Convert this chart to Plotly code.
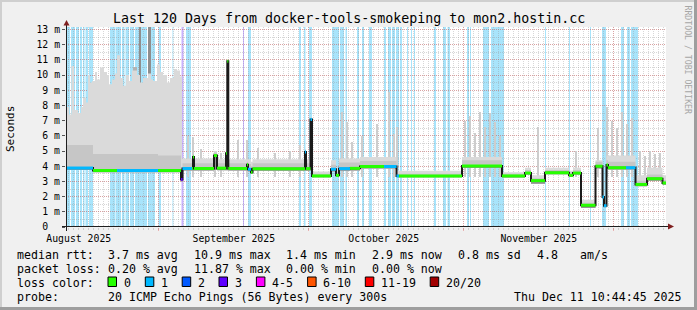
import plotly.graph_objects as go
from datetime import datetime

START = datetime(2025, 8, 13, 10, 44, 45)
SPAN_DAYS = 120.0

# ---------------- data (days since START, milliseconds) ----------------
seg_day = [0.0, 5.4, 10.2, 18.4, 23.0, 23.3, 25.2, 25.4, 25.6, 29.6,
           30.2, 32.0, 32.16, 32.26, 32.46, 36.2, 36.4, 37.0, 37.3, 47.8,
           48.0, 48.9, 49.2, 53.0, 54.0, 54.6, 56.8, 58.8, 63.6, 66.1,
           66.6, 79.2, 87.2, 91.8, 93.0, 95.8, 100.6, 101.4, 103.0, 105.9,
           107.3, 107.6, 108.1, 108.4, 112.0, 113.9, 116.2, 119.3]
med_ms = [3.88, 3.72, 3.72, 3.72, 3.12, 3.85, 3.85, 4.6, 3.85, 4.7,
          3.87, 4.85, 3.87, 10.9, 3.85, 4.1, 3.8, 3.6, 3.83, 4.93,
          3.84, 7.08, 3.36, 3.8, 3.4, 3.84, 3.86, 3.98, 3.98, 3.36,
          3.36, 4.01, 3.36, 3.55, 3.05, 3.57, 3.4, 3.55, 1.43, 4.0,
          1.97, 1.4, 4.08, 3.9, 3.9, 2.8, 3.18, 2.9]
med_loss = [1, 0, 1, 0, 3, 1, 0, 0, 0, 0,
            0, 0, 0, 0, 0, 0, 1, 0, 0, 1,
            0, 1, 0, 1, 0, 1, 0, 0, 1, 1,
            0, 0, 0, 0, 0, 0, 0, 0, 0, 0,
            1, 1, 0, 0, 1, 0, 0, 0]
smoke_lo = [3.75, 3.6, 3.6, 3.6, 3.0, 3.72, 3.72, 3.72, 3.72, 3.75,
            3.74, 3.74, 3.74, 3.74, 3.72, 3.72, 3.65, 3.5, 3.7, 3.7,
            3.7, 3.7, 3.28, 3.65, 3.3, 3.7, 3.72, 3.85, 3.85, 3.28,
            3.28, 3.88, 3.26, 3.45, 2.85, 3.47, 3.3, 3.45, 1.25, 3.85,
            1.85, 1.3, 3.9, 3.78, 3.78, 2.68, 3.05, 2.78]
smoke_p75 = [5.4, 4.8, 4.8, 4.7, 3.9, 4.2, 4.2, 4.8, 4.2, 4.9,
             4.2, 5.0, 4.2, 11.0, 4.2, 4.3, 4.15, 4.0, 4.2, 5.1,
             4.2, 7.2, 3.5, 4.1, 3.6, 4.25, 4.25, 4.35, 4.35, 3.5,
             3.5, 4.4, 3.5, 3.75, 3.2, 3.75, 3.6, 3.75, 1.6, 4.3,
             2.2, 1.6, 4.4, 4.3, 4.3, 3.05, 3.45, 3.1]

top_day = [0.0, 0.6, 1.1, 1.6, 2.4, 3.0, 3.4, 4.0, 4.4, 4.8,
           5.2, 5.8, 6.2, 6.8, 7.6, 8.2, 8.6, 9.2, 9.8, 10.2,
           10.8, 11.4, 12.0, 12.6, 13.2, 14.2, 14.8, 15.4, 16.4, 17.0,
           17.4, 18.2, 18.8, 19.4, 20.2, 20.8, 21.6, 22.2, 22.8, 23.2,
           29.6, 30.2, 37.0, 37.3, 49.2, 53.0, 54.0, 54.6, 58.8, 66.1,
           79.2, 87.2, 91.8, 93.0, 95.8, 100.6, 101.4, 103.0, 105.9, 107.3,
           107.6, 108.1, 113.9, 116.2, 119.3]
top_ms = [7.9, 7.4, 10.6, 7.7, 7.5, 7.9, 8.5, 8.2, 10.0, 9.5,
          9.6, 10.2, 9.7, 10.5, 10.2, 10.0, 9.4, 9.7, 10.1, 11.3,
          9.8, 9.3, 10.0, 9.6, 10.3, 10.0, 9.5, 9.8, 10.1, 9.7,
          9.6, 10.7, 10.2, 10.0, 9.5, 9.8, 10.4, 10.3, 9.9, 4.5,
          5.0, 4.45, 4.3, 4.45, 3.65, 4.4, 3.9, 4.5, 4.6, 3.7,
          4.6, 3.6, 3.9, 3.4, 3.9, 3.7, 3.9, 1.8, 4.4, 2.3,
          1.8, 4.7, 3.4, 3.9, 3.4]

spike_day = [24.4, 25.4, 27.0, 29.8, 31.0, 34.4, 36.2, 38.4, 41.8, 44.8,
             46.8, 55.2, 56.2, 57.2, 59.2, 62.2, 64.6, 65.6, 66.2, 79.8,
             80.8, 81.8, 82.8, 83.8, 84.8, 85.8, 86.8, 94.4, 102.0, 106.4,
             108.2, 109.2, 110.2, 111.2, 112.2, 113.2, 114.8, 115.8, 116.8, 117.8,
             118.8]
spike_top = [6.0, 5.9, 5.1, 5.0, 4.9, 5.7, 5.7, 5.2, 4.9, 5.0,
             5.4, 7.6, 6.9, 5.6, 6.0, 6.8, 8.9, 6.1, 6.6, 7.0,
             7.3, 6.2, 7.6, 6.6, 7.5, 6.9, 6.0, 6.6, 5.0, 6.5,
             7.9, 7.0, 6.5, 7.6, 6.8, 7.2, 5.0, 4.7, 5.0, 4.8,
             4.9]
spike_dur = 0.2

midcol_day = [7.2, 10.26, 12.7, 13.8]
midcol_top = [8.0, 9.0, 9.6, 10.5]
midcol_dur = [0.4, 0.2, 0.4, 0.8]
darkcol_day = [14.86, 16.7]
darkcol_top = [13.16, 13.16]
darkcol_dur = [0.4, 0.6]
col_base = 3.8
spike_base = 3.3

band_start = [0.0, 1.0, 2.0, 2.8, 3.4, 3.9, 4.6, 8.8, 9.9, 11.2,
              11.9, 12.8, 13.8, 16.4, 18.5, 21.3, 23.1, 24.0, 35.4, 36.4,
              46.6, 47.6, 48.6, 53.2, 54.8, 55.9, 58.2, 59.2, 60.6, 63.6,
              64.4, 65.2, 66.0, 66.8, 68.2, 69.0, 69.6, 73.6, 75.4, 76.3,
              80.2, 80.8, 83.4, 85.0, 95.8, 100.6, 104.8, 107.2, 111.0, 112.2,
              113.0]
band_end = [0.8, 1.8, 2.6, 3.2, 3.7, 4.4, 5.4, 9.8, 11.0, 11.7,
            12.6, 13.6, 16.2, 17.8, 19.0, 21.46, 23.5, 25.0, 35.6, 37.0,
            47.0, 47.9, 49.2, 54.6, 55.6, 56.2, 58.6, 59.6, 61.2, 64.0,
            65.0, 65.8, 66.6, 67.2, 68.4, 69.2, 69.8, 74.0, 76.0, 76.8,
            80.6, 81.0, 84.6, 87.6, 96.0, 100.8, 105.0, 108.0, 111.6, 112.8,
            114.4]
band_loss = [1, 1, 1, 1, 1, 1, 1, 1, 1, 1,
             1, 1, 1, 1, 1, 1, 3, 1, 3, 1,
             1, 1, 1, 1, 1, 1, 1, 1, 1, 1,
             1, 1, 1, 1, 1, 1, 1, 1, 1, 1,
             1, 1, 1, 1, 1, 1, 1, 1, 1, 1,
             1]

month_starts = [datetime(2025, 9, 1), datetime(2025, 10, 1), datetime(2025, 11, 1), datetime(2025, 12, 1)]
month_label_at = [datetime(2025, 8, 16), datetime(2025, 9, 16), datetime(2025, 10, 16), datetime(2025, 11, 16)]
month_labels = ["August 2025", "September 2025", "October 2025", "November 2025"]
first_midnight = datetime(2025, 8, 14)

y_tickvals = list(range(0, 14))
y_ticktext = ["0  "] + [f"{v} m" for v in range(1, 14)]

rtt_stats = ["3.7 ms avg", "10.9 ms max", "1.4 ms min", "2.9 ms now", "0.8 ms sd", "4.8", "am/s"]
loss_stats = ["0.20 % avg", "11.87 % max", "0.00 % min", "0.00 % now"]
loss_labels = ["0", "1", "2", "3", "4-5", "6-10", "11-19", "20/20"]
probe_text = "20 ICMP Echo Pings (56 Bytes) every 300s"
stamp_text = "Thu Dec 11 10:44:45 2025"
title_text = "Last 120 Days from docker-tools-smokeping to mon2.hostin.cc"

# ---------------- styles ----------------
FONT = "DejaVu Sans Mono"
LOSS_COLORS = ["#26ff00", "#00b8ff", "#0059ff", "#5e00ff", "#ff00ff", "#ff5500", "#ff0000", "#a10000"]
BAND_COLORS = {1: "#a8e4fb", 3: "#c9b2ff"}
GRID = "rgba(150,150,150,0.38)"
MGRID = "rgba(222,79,79,0.38)"
BACK = "#f0f0f0"
ARROW = "#7f1f1f"
AXIS = "#1f1f1f"


def dayof(dt):
    return (dt - START).total_seconds() / 86400.0


def px(x):
    return (x - 66) / 600.0


def py(y):
    return (227 - y) / 200.0


fig = go.Figure()

# thin smoke spikes
fig.add_trace(go.Bar(x=spike_day, y=[t - spike_base for t in spike_top], base=spike_base,
                     width=spike_dur, marker=dict(color="#cdcdcd", line=dict(width=0)),
                     hoverinfo="skip", showlegend=False))

step_x = seg_day + [SPAN_DAYS]


def stepped(vals):
    return vals + [vals[-1]]


# light smoke
fig.add_trace(go.Scatter(x=step_x, y=stepped(smoke_lo), mode="lines", line=dict(width=0, shape="hv"),
                         hoverinfo="skip", showlegend=False))
fig.add_trace(go.Scatter(x=top_day + [SPAN_DAYS], y=stepped(top_ms), mode="lines",
                         line=dict(width=0, shape="hv"), fill="tonexty", fillcolor="#dadada",
                         hoverinfo="skip", showlegend=False))

# darker early columns
fig.add_trace(go.Bar(x=midcol_day, y=[t - col_base for t in midcol_top], base=col_base, width=midcol_dur,
                     marker=dict(color="#b3b3b3", line=dict(width=0)), hoverinfo="skip", showlegend=False))
fig.add_trace(go.Bar(x=darkcol_day, y=[t - col_base for t in darkcol_top], base=col_base, width=darkcol_dur,
                     marker=dict(color="#8e8e8e", line=dict(width=0)), hoverinfo="skip", showlegend=False))

# mid smoke
fig.add_trace(go.Scatter(x=step_x, y=stepped(smoke_lo), mode="lines", line=dict(width=0, shape="hv"),
                         hoverinfo="skip", showlegend=False))
fig.add_trace(go.Scatter(x=step_x, y=stepped(smoke_p75), mode="lines", line=dict(width=0, shape="hv"),
                         fill="tonexty", fillcolor="#c6c6c6", hoverinfo="skip", showlegend=False))
# dark smoke under median
fig.add_trace(go.Scatter(x=step_x, y=stepped(smoke_lo), mode="lines", line=dict(width=0, shape="hv"),
                         hoverinfo="skip", showlegend=False))
fig.add_trace(go.Scatter(x=step_x, y=stepped(med_ms), mode="lines", line=dict(width=0, shape="hv"),
                         fill="tonexty", fillcolor="#919191", hoverinfo="skip", showlegend=False))

# median (black connector)
fig.add_trace(go.Scatter(x=step_x, y=stepped(med_ms), mode="lines",
                         line=dict(width=2, shape="hv", color="#1a1a1a"), hoverinfo="skip", showlegend=False))
# median colored by loss
for lvl in sorted(set(med_loss)):
    xs, ys = [], []
    for i, (d, v, l) in enumerate(zip(seg_day, med_ms, med_loss)):
        if l != lvl:
            continue
        xs += [d, step_x[i + 1], None]
        ys += [v, v, None]
    fig.add_trace(go.Scatter(x=xs, y=ys, mode="lines", line=dict(width=3, color=LOSS_COLORS[lvl]),
                             hoverinfo="skip", showlegend=False))

# dummy trace for label axis
fig.add_trace(go.Scatter(x=[0], y=[None], xaxis="x2", mode="markers", showlegend=False, hoverinfo="skip"))

shapes = []
for s, e, l in zip(band_start, band_end, band_loss):
    shapes.append(dict(type="rect", xref="x", yref="paper", x0=s, x1=e, y0=0, y1=1,
                       fillcolor=BAND_COLORS[l], line=dict(width=0), layer="below"))

# axes lines + arrows
shapes.append(dict(type="line", xref="paper", yref="paper", x0=px(62), x1=px(669), y0=py(226.5), y1=py(226.5),
                   line=dict(color=AXIS, width=1)))
shapes.append(dict(type="line", xref="paper", yref="paper", x0=px(66.5), x1=px(66.5), y0=py(231), y1=py(24),
                   line=dict(color=AXIS, width=1)))
shapes.append(dict(type="path", xref="paper", yref="paper",
                   path=f"M {px(668)},{py(223.5)} L {px(674)},{py(226.5)} L {px(668)},{py(229.5)} Z",
                   fillcolor=ARROW, line=dict(width=0)))
shapes.append(dict(type="path", xref="paper", yref="paper",
                   path=f"M {px(63.5)},{py(25.5)} L {px(66.5)},{py(20)} L {px(69.5)},{py(25.5)} Z",
                   fillcolor=ARROW, line=dict(width=0)))
# frame
shapes.append(dict(type="rect", xref="paper", yref="paper", x0=px(0), x1=px(697), y0=py(0), y1=py(2),
                   fillcolor="#cfcfcf", line=dict(width=0)))
shapes.append(dict(type="rect", xref="paper", yref="paper", x0=px(0), x1=px(2), y0=py(0), y1=py(310),
                   fillcolor="#cfcfcf", line=dict(width=0)))
shapes.append(dict(type="rect", xref="paper", yref="paper", x0=px(0), x1=px(697), y0=py(307), y1=py(310),
                   fillcolor="#9e9e9e", line=dict(width=0)))
shapes.append(dict(type="rect", xref="paper", yref="paper", x0=px(694), x1=px(697), y0=py(0), y1=py(310),
                   fillcolor="#9e9e9e", line=dict(width=0)))

annotations = []


def text(x, y, s, size=11.6, color="black", anchor="left", angle=0):
    annotations.append(dict(x=px(x), y=py(y), xref="paper", yref="paper", text=s, showarrow=False,
                            xanchor=anchor, yanchor="middle", textangle=angle, borderpad=0,
                            font=dict(family=FONT, size=size, color=color)))


text(348.5, 18.5, title_text, size=13.3, anchor="center")
text(10, 129, "Seconds", size=11, anchor="center", angle=-90)
text(687.5, 60, "RRDTOOL / TOBI OETIKER", size=8.2, color="#a6a6a6", anchor="center", angle=90)

rows = [254.5, 268.5, 282.5, 296.5]
text(15.5, rows[0], "median rtt:")
for xx, s in zip([107, 192.5, 285, 371, 457, 536, 579], rtt_stats):
    text(xx, rows[0], s)
text(15.5, rows[1], "packet loss:")
for xx, s in zip([107, 192.5, 285, 371], loss_stats):
    text(xx, rows[1], s)
text(15.5, rows[2], "loss color:")
for bx, lab, col in zip([108, 145.3, 182.2, 219, 256.4, 307.6, 365.3, 430.2], loss_labels, LOSS_COLORS):
    shapes.append(dict(type="rect", xref="paper", yref="paper", x0=px(bx), x1=px(bx + 8.5),
                       y0=py(286.5), y1=py(277), fillcolor=col, line=dict(color="black", width=1)))
    text(bx + 14.5, rows[2], lab)
text(15.5, rows[3], "probe:")
text(107, rows[3], probe_text)
text(512.5, rows[3], stamp_text)

fig.update_layout(
    width=697, height=310,
    margin=dict(l=66, r=31, t=27, b=83, pad=0),
    paper_bgcolor=BACK, plot_bgcolor="white",
    showlegend=False, barmode="overlay", bargap=0,
    shapes=shapes, annotations=annotations,
    font=dict(family=FONT, color="black"),
    xaxis=dict(range=[0, SPAN_DAYS], domain=[0, 1],
               tickvals=[dayof(d) for d in month_starts], showticklabels=False,
               showgrid=True, gridcolor=MGRID, griddash="1px,1px", gridwidth=1,
               ticks="outside", ticklen=3, tickcolor=MGRID,
               zeroline=False, showline=False, fixedrange=True,
               minor=dict(dtick=1, tick0=dayof(first_midnight), showgrid=True, gridcolor=GRID,
                          griddash="1px,1px", gridwidth=1, ticks="outside", ticklen=2, tickcolor=GRID)),
    xaxis2=dict(range=[0, SPAN_DAYS], overlaying="x", anchor="y", side="bottom",
                tickvals=[dayof(d) for d in month_label_at], ticktext=month_labels,
                showgrid=False, ticks="", zeroline=False, showline=False, fixedrange=True,
                ticklabelstandoff=4,
                tickfont=dict(family=FONT, size=9.8, color="black")),
    yaxis=dict(range=[0, 13.16], domain=[0, 1], tickvals=y_tickvals, ticktext=y_ticktext,
               showgrid=True, gridcolor=MGRID, griddash="1px,1px", gridwidth=1,
               ticks="outside", ticklen=3, tickcolor="#555555",
               zeroline=False, showline=False, fixedrange=True,
               tickfont=dict(family=FONT, size=9.8, color="black"),
               minor=dict(dtick=0.5, showgrid=True, gridcolor=GRID, griddash="1px,1px", gridwidth=1)),
)

fig.write_html("out.html")
